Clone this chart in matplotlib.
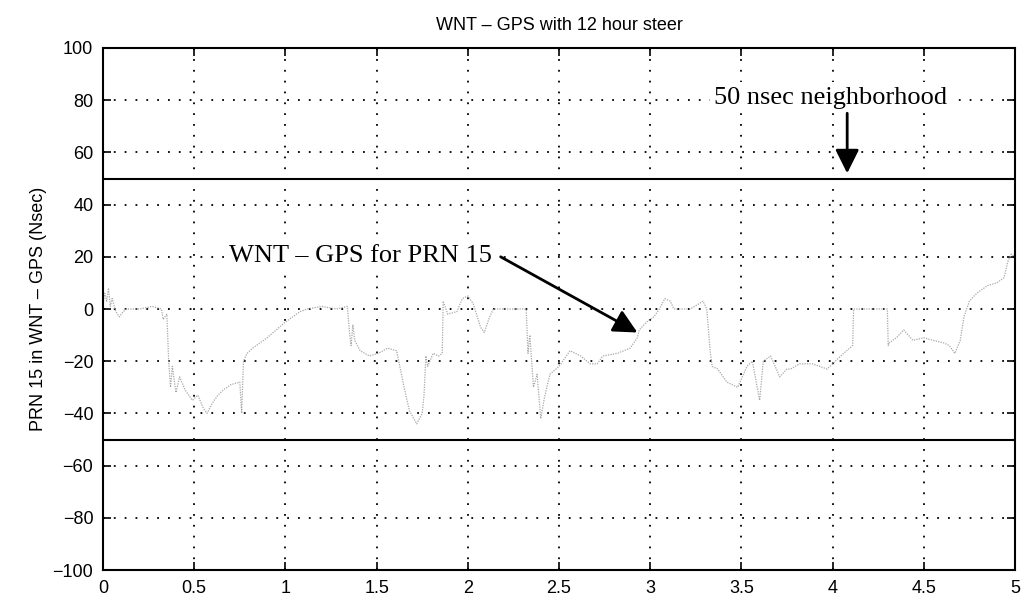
import numpy as np
import matplotlib
matplotlib.use("Agg")
import matplotlib.pyplot as plt

# WNT - GPS trace for PRN 15
days = [0.00, 0.01, 0.02, 0.03, 0.04, 0.05, 0.07, 0.09, 0.11, 0.13, 0.20, 0.27,
        0.32, 0.33, 0.35, 0.36, 0.37, 0.38, 0.40, 0.42, 0.45, 0.49, 0.52, 0.55,
        0.57, 0.60, 0.63, 0.66, 0.70, 0.75, 0.76, 0.77, 0.79, 0.82, 0.86, 0.90,
        0.95, 1.00, 1.04, 1.08, 1.12, 1.20, 1.28, 1.34, 1.35, 1.36, 1.37, 1.38,
        1.41, 1.46, 1.51, 1.56, 1.61, 1.63, 1.66, 1.68, 1.72, 1.75, 1.76, 1.77,
        1.78, 1.81, 1.84, 1.86, 1.865, 1.89, 1.94, 1.97, 2.00, 2.03, 2.07, 2.09,
        2.12, 2.14, 2.22, 2.32, 2.33, 2.34, 2.36, 2.38, 2.40, 2.42, 2.45, 2.50,
        2.56, 2.62, 2.67, 2.71, 2.74, 2.82, 2.89, 2.93, 2.94, 2.98, 3.02, 3.05,
        3.08, 3.11, 3.13, 3.22, 3.29, 3.31, 3.33, 3.34, 3.37, 3.42, 3.48, 3.53,
        3.56, 3.60, 3.62, 3.66, 3.71, 3.75, 3.77, 3.82, 3.89, 3.97, 4.00, 4.06,
        4.11, 4.115, 4.20, 4.30, 4.305, 4.31, 4.35, 4.39, 4.44, 4.50, 4.55, 4.61,
        4.64, 4.67, 4.70, 4.72, 4.75, 4.79, 4.85, 4.90, 4.94, 4.96, 4.98, 5.00]
wnt_gps = [2, 6, 3, 8, 1, 4, -1, -3, -1, 0, 0, 1,
           0, -4, -2, -20, -30, -22, -32, -26, -31, -35, -33, -38,
           -40, -36, -33, -31, -29, -28, -40, -20, -17, -15, -13, -11,
           -8, -5, -3, -1, 0, 1, 0, 1, -8, -14, -6, -12,
           -16, -18, -17, -15, -16, -23, -33, -39, -44, -40, -33, -18,
           -22, -17, -18, -17, 3, -2, -1, 4, 5, 2, -7, -9,
           -3, 0, 0, 0, -17, -10, -30, -25, -42, -34, -25, -22,
           -16, -18, -21, -21, -18, -17, -15, -11, -8, -5, -3, 0,
           4, 3, 0, 0, 3, 0, -17, -22, -23, -28, -30, -22,
           -20, -35, -20, -18, -26, -23, -23, -21, -21, -23, -21, -17,
           -14, 0, 0, 0, -14, -13, -11, -8, -12, -11, -12, -13,
           -14, -17, -12, -3, 3, 6, 9, 10, 12, 18, 21, 20]

limit_ns = [50, -50]
x_ticks = [0, 0.5, 1, 1.5, 2, 2.5, 3, 3.5, 4, 4.5, 5]
y_ticks = [100, 80, 60, 40, 20, 0, -20, -40, -60, -80, -100]

plt.rcParams['font.family'] = ['Liberation Sans', 'DejaVu Sans']

fig = plt.figure(figsize=(10.24, 6.03), dpi=100)
ax = fig.add_axes([0.1006, 0.0547, 0.8906, 0.8657])

ax.plot(days, wnt_gps, color='#a8a8a8', lw=0.9, linestyle=(0, (1, 1)))
for lim in limit_ns:
    ax.axhline(lim, color='k', lw=1.5)

ax.set_xlim(0, 5)
ax.set_ylim(-100, 100)
ax.set_xticks(x_ticks)
ax.set_xticklabels([f"{t:g}" for t in x_ticks])
ax.set_yticks(y_ticks)
ax.set_yticklabels([str(t).replace('-', '\u2212') for t in y_ticks])
ax.grid(True, color='k', lw=1.3, linestyle=(0, (1, 5)))
ax.tick_params(direction='in', length=6, width=1.2, top=True, right=True,
               labelsize=13, pad=7)
for sp in ax.spines.values():
    sp.set_linewidth(1.5)

ax.set_title('WNT \u2013 GPS with 12 hour steer', fontsize=13, pad=13)
ax.set_ylabel('PRN 15 in WNT \u2013 GPS (Nsec)', fontsize=13, labelpad=4)

serif = ['Liberation Serif', 'DejaVu Serif']
box = dict(facecolor='white', edgecolor='none', pad=3)
arrow = dict(arrowstyle='-|>', color='k', lw=2, mutation_scale=36,
             shrinkA=0, shrinkB=0)
ax.text(3.99, 81, '50 nsec neighborhood', ha='center', va='center',
        fontsize=19, family=serif, bbox=box)
ax.annotate('', xy=(4.08, 52), xytext=(4.08, 75), arrowprops=arrow)
ax.text(1.41, 20.5, 'WNT \u2013 GPS for PRN 15', ha='center', va='center',
        fontsize=19, family=serif, bbox=box)
ax.annotate('', xy=(2.93, -9), xytext=(2.18, 20), arrowprops=arrow)

fig.savefig('out.png', dpi=100)
